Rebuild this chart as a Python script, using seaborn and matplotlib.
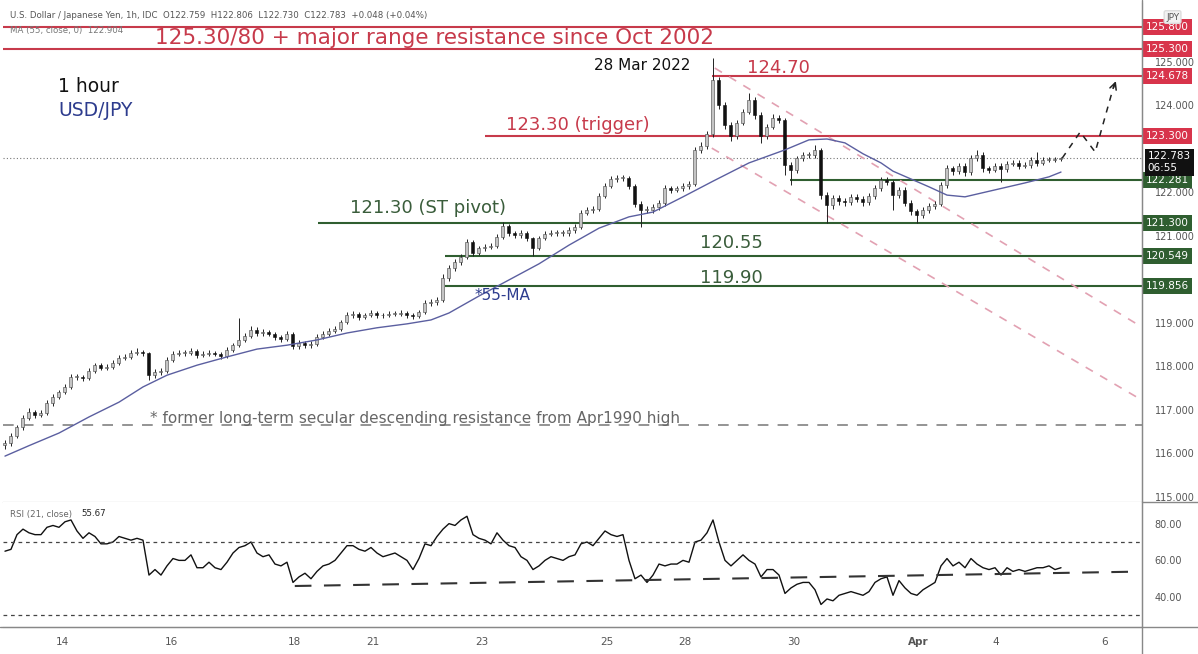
import numpy as np
import pandas as pd
import matplotlib
matplotlib.use("Agg")
import matplotlib.pyplot as plt
from matplotlib.lines import Line2D
from matplotlib.ticker import FormatStrFormatter
import seaborn as sns

# USD/JPY candles (one candle every ~2.5 hours)
first_open = 116.20
closes = [
    116.24, 116.40, 116.61, 116.82, 116.95, 116.89, 116.93, 117.16, 117.30, 117.41,
    117.53, 117.76, 117.76, 117.74, 117.90, 118.03, 117.97, 117.99, 118.08, 118.20,
    118.22, 118.31, 118.33, 118.31, 117.80, 117.87, 117.90, 118.15, 118.29, 118.31,
    118.31, 118.36, 118.26, 118.29, 118.31, 118.29, 118.24, 118.38, 118.49, 118.61,
    118.70, 118.84, 118.77, 118.79, 118.75, 118.68, 118.63, 118.75, 118.47, 118.54,
    118.49, 118.52, 118.68, 118.75, 118.82, 118.86, 119.02, 119.18, 119.21, 119.14,
    119.18, 119.23, 119.18, 119.18, 119.21, 119.21, 119.23, 119.18, 119.16, 119.25,
    119.46, 119.48, 119.53, 120.03, 120.26, 120.40, 120.52, 120.86, 120.61, 120.72,
    120.75, 120.77, 120.98, 121.23, 121.07, 121.02, 121.07, 120.95, 120.72, 120.95,
    121.05, 121.07, 121.07, 121.07, 121.14, 121.21, 121.53, 121.60, 121.62, 121.92,
    122.15, 122.31, 122.33, 122.33, 122.15, 121.74, 121.60, 121.60, 121.67, 121.76,
    122.10, 122.06, 122.10, 122.15, 122.20, 122.98, 123.07, 123.34, 124.59, 124.01,
    123.55, 123.30, 123.60, 123.85, 124.13, 123.78, 123.30, 123.51, 123.71, 123.67,
    122.63, 122.52, 122.79, 122.86, 122.86, 122.98, 121.94, 121.71, 121.87, 121.80,
    121.78, 121.90, 121.85, 121.78, 121.92, 122.10, 122.29, 122.24, 121.94, 122.06,
    121.76, 121.57, 121.48, 121.60, 121.69, 121.74, 122.17, 122.56, 122.49, 122.61,
    122.47, 122.79, 122.86, 122.56, 122.52, 122.61, 122.54, 122.66, 122.68, 122.61,
    122.63, 122.75, 122.68, 122.75, 122.75, 122.77, 122.78,
]
highs = [
    116.30, 116.46, 116.66, 116.88, 117.05, 117.00, 116.99, 117.22, 117.36, 117.47,
    117.60, 117.82, 117.83, 117.81, 117.96, 118.09, 118.08, 118.05, 118.14, 118.26,
    118.28, 118.37, 118.42, 118.38, 118.34, 117.95, 117.97, 118.21, 118.35, 118.37,
    118.37, 118.43, 118.40, 118.35, 118.37, 118.36, 118.34, 118.44, 118.55, 119.11,
    118.78, 118.92, 118.90, 118.86, 118.85, 118.80, 118.73, 118.81, 118.79, 118.60,
    118.59, 118.58, 118.74, 118.81, 118.88, 118.92, 119.08, 119.26, 119.28, 119.26,
    119.24, 119.30, 119.28, 119.24, 119.27, 119.27, 119.29, 119.28, 119.23, 119.31,
    119.52, 119.55, 119.60, 120.12, 120.33, 120.47, 120.58, 120.93, 120.90, 120.78,
    120.82, 120.84, 121.05, 121.32, 121.27, 121.12, 121.13, 121.12, 120.98, 121.01,
    121.11, 121.14, 121.13, 121.13, 121.20, 121.27, 121.59, 121.67, 121.69, 121.98,
    122.22, 122.38, 122.40, 122.41, 122.38, 122.19, 121.80, 121.68, 121.74, 121.83,
    122.17, 122.16, 122.16, 122.22, 122.27, 123.05, 123.15, 123.42, 125.09, 124.66,
    124.08, 123.62, 123.67, 123.92, 124.29, 124.20, 123.84, 123.58, 123.80, 123.78,
    123.72, 122.70, 122.85, 122.93, 122.93, 123.10, 123.02, 122.00, 121.94, 121.95,
    121.87, 121.97, 121.96, 121.92, 121.99, 122.17, 122.36, 122.35, 122.29, 122.13,
    122.12, 121.82, 121.62, 121.67, 121.76, 121.81, 122.24, 122.63, 122.62, 122.68,
    122.68, 122.86, 122.98, 122.92, 122.62, 122.68, 122.67, 122.72, 122.75, 122.74,
    122.70, 122.81, 122.93, 122.81, 122.81, 122.82, 122.81,
]
lows = [
    116.10, 116.18, 116.35, 116.55, 116.76, 116.82, 116.84, 116.88, 117.10, 117.25,
    117.36, 117.48, 117.68, 117.66, 117.70, 117.85, 117.91, 117.92, 117.94, 118.03,
    118.15, 118.17, 118.26, 118.25, 117.70, 117.74, 117.80, 117.86, 118.10, 118.24,
    118.25, 118.27, 118.20, 118.21, 118.24, 118.23, 118.18, 118.19, 118.33, 118.44,
    118.56, 118.65, 118.70, 118.71, 118.69, 118.62, 118.56, 118.58, 118.40, 118.41,
    118.43, 118.43, 118.47, 118.63, 118.70, 118.76, 118.81, 118.97, 119.12, 119.08,
    119.09, 119.13, 119.12, 119.12, 119.13, 119.15, 119.16, 119.12, 119.09, 119.11,
    119.20, 119.40, 119.42, 119.48, 119.97, 120.20, 120.34, 120.47, 120.54, 120.56,
    120.66, 120.70, 120.72, 120.93, 121.00, 120.95, 120.96, 120.88, 120.55, 120.67,
    120.90, 121.00, 121.01, 120.99, 121.01, 121.08, 121.16, 121.48, 121.54, 121.57,
    121.87, 122.10, 122.25, 122.27, 122.08, 121.66, 121.20, 121.52, 121.53, 121.60,
    121.70, 121.99, 122.00, 122.04, 122.09, 122.14, 122.90, 123.00, 123.28, 123.93,
    123.47, 123.18, 123.24, 123.54, 123.80, 123.70, 123.14, 123.24, 123.45, 123.60,
    122.40, 122.17, 122.45, 122.73, 122.79, 122.80, 121.85, 121.30, 121.62, 121.72,
    121.70, 121.72, 121.78, 121.70, 121.72, 121.86, 122.04, 122.17, 121.60, 121.88,
    121.68, 121.48, 121.30, 121.41, 121.54, 121.63, 121.68, 122.11, 122.40, 122.42,
    122.38, 122.41, 122.72, 122.48, 122.45, 122.46, 122.24, 122.48, 122.60, 122.54,
    122.56, 122.57, 122.62, 122.63, 122.70, 122.71, 122.73,
]

# 55-period moving average, read at a few candles
ma_bar = [0, 4, 9, 14, 19, 23, 27, 32, 37, 42, 47, 52, 57, 62, 67, 71, 74, 79, 84, 89,
          94, 99, 104, 108, 113, 118, 124, 130, 134, 137, 140, 143, 146, 148, 154, 157,
          160, 165, 170, 174, 176]
ma_val = [115.94, 116.18, 116.47, 116.84, 117.18, 117.53, 117.80, 118.03, 118.22, 118.40,
          118.49, 118.61, 118.77, 118.89, 118.98, 119.07, 119.23, 119.62, 119.99, 120.36,
          120.79, 121.18, 121.44, 121.55, 121.90, 122.26, 122.68, 122.98, 123.21, 123.23,
          123.14, 122.89, 122.68, 122.49, 122.13, 121.94, 121.90, 122.06, 122.22, 122.36,
          122.47]

# RSI(21) at each candle
rsi = [
    65, 66, 74, 77, 75, 74, 74, 78, 79, 78,
    81, 82, 76, 72, 75, 73, 69, 69, 70, 73,
    72, 71, 72, 71, 52, 55, 52, 57, 61, 60,
    60, 63, 56, 56, 59, 56, 55, 59, 64, 67,
    68, 70, 64, 62, 63, 58, 57, 59, 48, 51,
    53, 50, 54, 57, 58, 60, 64, 68, 68, 66,
    65, 67, 64, 62, 63, 64, 62, 60, 55, 61,
    69, 68, 73, 77, 80, 79, 82, 84, 74, 72,
    71, 69, 75, 71, 68, 67, 62, 60, 55, 57,
    60, 62, 61, 60, 62, 63, 69, 70, 68, 72,
    76, 74, 73, 74, 60, 50, 52, 48, 52, 58,
    57, 58, 58, 60, 59, 70, 71, 75, 82, 70,
    60, 57, 60, 63, 60, 58, 51, 55, 55, 52,
    42, 45, 47, 48, 48, 44, 36, 39, 38, 41,
    42, 43, 42, 41, 43, 48, 50, 51, 41, 49,
    45, 42, 41, 44, 46, 48, 57, 61, 57, 59,
    56, 61, 58, 56, 55, 56, 52, 56, 54, 55,
    54, 55, 56, 56, 57, 55, 56,
]

day_labels = ['14', '16', '18', '21', '23', '25', '28', '30', 'Apr', '4', '6']
day_bar = [9.5, 27.7, 48.3, 61.3, 79.5, 100.3, 113.3, 131.5, 152.2, 165.2, 183.2]
price_ticks = [115, 116, 117, 118, 119, 121, 122, 124, 125]

red_levels = [125.80, 125.30, 124.678, 123.30]
green_levels = [122.281, 121.30, 120.549, 119.856]
last_price = 122.783
former_res = 116.65

RED = '#c73a4b'
RED_BOX = '#d8344b'
GREEN = '#2f5e30'
GREEN_TXT = '#3a5d3b'
NAVY = '#2d3c8e'

sns.set_style("white")
plt.rcParams['font.family'] = ['DejaVu Sans']

W, H = 1198, 654
fig = plt.figure(figsize=(W / 100, H / 100), dpi=100)


def fx(px):
    return px / W


def fy(py):
    return 1 - py / H


L, R = 3, 1142
ax = fig.add_axes([fx(L), fy(502), fx(R - L), (502 - 3) / H])
ax_rsi = fig.add_axes([fx(L), fy(627), fx(R - L), (627 - 502) / H], sharex=ax)
xmax = 189.5

# candles
opens = [first_open] + closes[:-1]
df = pd.DataFrame({'o': opens, 'h': highs, 'l': lows, 'c': closes})
df['bar'] = np.arange(len(df))
df['body'] = np.maximum((df['c'] - df['o']).abs(), 0.015)
df['base'] = df[['o', 'c']].min(axis=1)
up = df['c'] >= df['o']
ax.vlines(df['bar'], df['l'], df['h'], color='#222', lw=0.7, zorder=3)
ax.bar(df['bar'][up], df['body'][up], bottom=df['base'][up], width=0.5,
       color='#c4c4c4', edgecolor='#444', linewidth=0.4, zorder=4)
ax.bar(df['bar'][~up], df['body'][~up], bottom=df['base'][~up], width=0.5,
       color='#111', edgecolor='#111', linewidth=0.4, zorder=4)

sns.lineplot(x=ma_bar, y=ma_val, ax=ax, color='#5b5fa0', lw=1.0, zorder=5)

# levels
ax.hlines(red_levels[0], -1, xmax, color=RED, lw=1.5, zorder=2)
ax.hlines(red_levels[1], -1, xmax, color=RED, lw=1.5, zorder=2)
ax.hlines(red_levels[2], 117.8, xmax, color=RED, lw=1.5, zorder=2)
ax.hlines(red_levels[3], 80.0, xmax, color=RED, lw=1.5, zorder=2)
ax.hlines(green_levels[0], 130.8, xmax, color=GREEN, lw=1.5, zorder=2)
ax.hlines(green_levels[1], 52.2, xmax, color=GREEN, lw=1.5, zorder=2)
ax.hlines(green_levels[2], 73.3, xmax, color=GREEN, lw=1.5, zorder=2)
ax.hlines(green_levels[3], 73.3, xmax, color=GREEN, lw=1.5, zorder=2)
ax.axhline(last_price, color='#777', ls=(0, (1, 2)), lw=0.8, zorder=2)
ax.axhline(former_res, color='#777', ls=(0, (7, 6)), lw=1.1, zorder=2)

# descending channel
ax.plot([118.3, 189.2], [124.86, 118.93], color='#e2a1b2', ls=(0, (5, 5)), lw=1.2, zorder=2)
ax.plot([117.8, 189.2], [123.02, 117.25], color='#e2a1b2', ls=(0, (5, 5)), lw=1.2, zorder=2)

# projected path
ax.plot([176.2, 179.2, 181.7, 184.9], [122.79, 123.39, 122.93, 124.50],
        color='#222', ls=(0, (4, 4)), lw=1.1, zorder=5)
ax.annotate('', xy=(185.3, 124.62), xytext=(184.6, 124.35),
            arrowprops=dict(arrowstyle='->', color='#222', lw=1.1, mutation_scale=12))

ax.set_xlim(-0.33, xmax)
ax.set_ylim(114.885, 126.356)
ax.yaxis.tick_right()
ax.set_yticks(price_ticks)
ax.yaxis.set_major_formatter(FormatStrFormatter('%.3f'))
ax.tick_params(axis='y', length=0, pad=9, labelsize=7, labelcolor='#555')
ax.tick_params(axis='x', bottom=False, labelbottom=False)
ax.set_xlabel('')
ax.set_ylabel('')

# RSI pane
sns.lineplot(x=df['bar'], y=rsi, ax=ax_rsi, color='#111', lw=1.0)
ax_rsi.axhline(70, color='#444', ls=(0, (3, 3)), lw=0.9)
ax_rsi.axhline(30, color='#444', ls=(0, (3, 3)), lw=0.9)
ax_rsi.plot([48.3, 189.2], [46.05, 53.9], color='#333', ls=(0, (8, 6)), lw=1.5)
ax_rsi.set_ylim(23.74, 91.77)
ax_rsi.yaxis.tick_right()
ax_rsi.set_yticks([40, 60, 80])
ax_rsi.yaxis.set_major_formatter(FormatStrFormatter('%.2f'))
ax_rsi.tick_params(axis='y', length=0, pad=9, labelsize=7, labelcolor='#555')
ax_rsi.set_xticks(day_bar, day_labels)
ax_rsi.tick_params(axis='x', length=0, pad=7, labelsize=7.5, labelcolor='#555')
for t in ax_rsi.get_xticklabels():
    if t.get_text() == 'Apr':
        t.set_fontweight('bold')
ax_rsi.set_xlabel('')
ax_rsi.set_ylabel('')

for a in (ax, ax_rsi):
    a.spines['left'].set_visible(False)
    a.spines['top'].set_visible(False)
    a.spines['right'].set_color('#888')
    a.spines['bottom'].set_color('#888')

fig.add_artist(Line2D([fx(R), fx(R)], [0, 1], color='#888', lw=1))
fig.add_artist(Line2D([fx(R), 1], [fy(502), fy(502)], color='#888', lw=1))
fig.add_artist(Line2D([0, 1], [fy(627), fy(627)], color='#888', lw=1))


# price tags on the right axis
def tag(axis, val, text, fc):
    axis.text(1 + 4 / (R - L), val, text, transform=axis.get_yaxis_transform(),
              ha='left', va='center', fontsize=7.5, color='white', clip_on=False,
              bbox=dict(boxstyle='square,pad=0.28', fc=fc, ec='none'), zorder=10)


for v in red_levels:
    tag(ax, v, f'{v:.3f}', RED_BOX)
for v in green_levels:
    tag(ax, v, f'{v:.3f}', GREEN)
ax.annotate(f'{last_price:.3f}\n06:55', xy=(1, last_price), xycoords=ax.get_yaxis_transform(),
            xytext=(4, 5), textcoords='offset points', ha='left', va='top',
            fontsize=7.5, color='white', linespacing=1.2, annotation_clip=False,
            bbox=dict(boxstyle='square,pad=0.28', fc='#111', ec='none'), zorder=10)
fig.text(fx(1166), fy(17), 'JPY', fontsize=6.5, color='#555', va='center',
         bbox=dict(boxstyle='round,pad=0.2', fc='#f2f2f2', ec='#dddddd'))

# header texts
fig.text(fx(10), fy(15), 'U.S. Dollar / Japanese Yen, 1h, IDC  O122.759  H122.806  L122.730  C122.783  +0.048 (+0.04%)',
         fontsize=6.2, color='#555', va='center')
fig.text(fx(10), fy(31), 'MA (55, close, 0)  122.904', fontsize=6.2, color='#777', va='center')
fig.text(fx(10), fy(514), 'RSI (21, close)', fontsize=6.2, color='#666', va='center')
fig.text(fx(81), fy(514), '55.67', fontsize=6.2, color='#222', va='center')

# annotations
fig.text(fx(155), fy(38), '125.30/80 + major range resistance since Oct 2002',
         fontsize=15.5, color=RED, va='center')
fig.text(fx(58), fy(86), '1 hour', fontsize=13.5, color='#111', va='center')
fig.text(fx(58), fy(110), 'USD/JPY', fontsize=13.5, color=NAVY, va='center')
fig.text(fx(594), fy(66), '28 Mar 2022', fontsize=11, color='#111', va='center')
fig.text(fx(747), fy(68), '124.70', fontsize=13, color=RED, va='center')
fig.text(fx(506), fy(125), '123.30 (trigger)', fontsize=13, color=RED, va='center')
fig.text(fx(350), fy(208), '121.30 (ST pivot)', fontsize=13, color=GREEN_TXT, va='center')
fig.text(fx(700), fy(243), '120.55', fontsize=13, color=GREEN_TXT, va='center')
fig.text(fx(700), fy(278), '119.90', fontsize=13, color=GREEN_TXT, va='center')
fig.text(fx(475), fy(296), '*55-MA', fontsize=11, color=NAVY, va='center')
fig.text(fx(150), fy(418), '* former long-term secular descending resistance from Apr1990 high',
         fontsize=11, color='#666', va='center')

fig.savefig('out.png', dpi=100, facecolor='white')
